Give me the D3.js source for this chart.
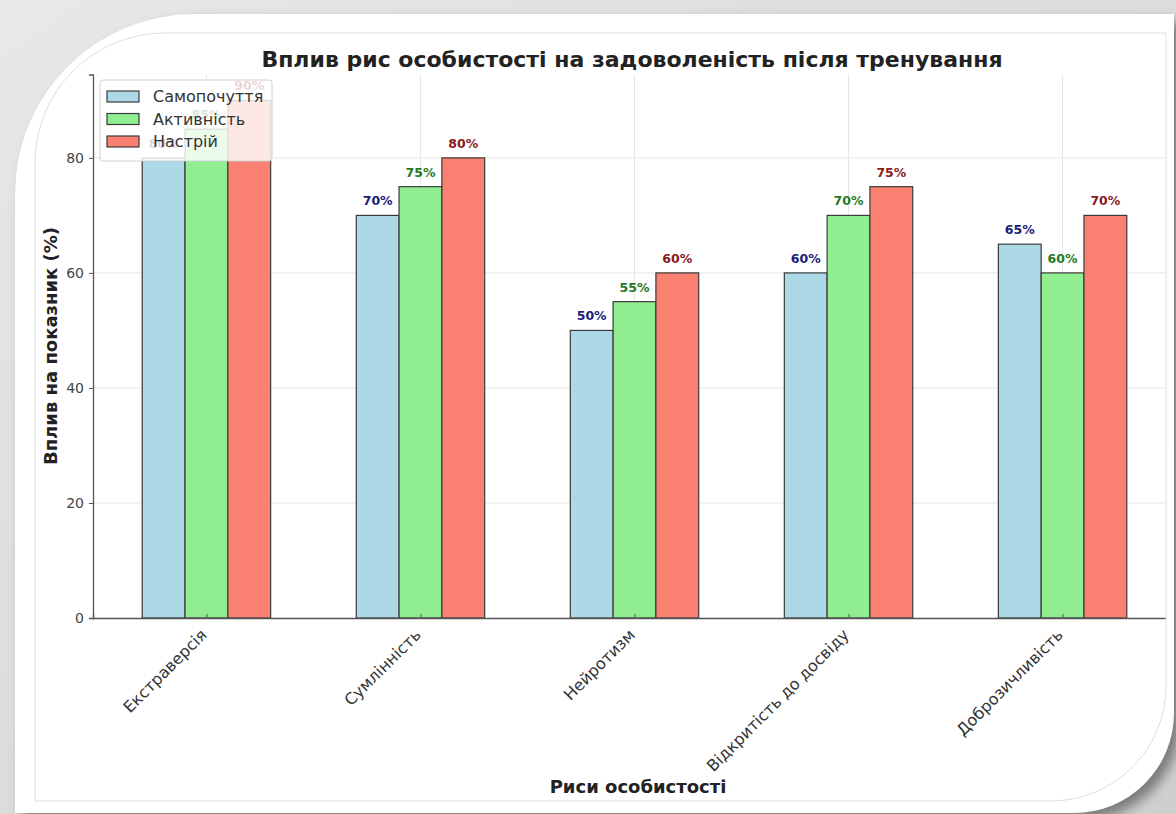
<!DOCTYPE html>
<html>
<head>
<meta charset="utf-8">
<script src="https://cdn.jsdelivr.net/npm/d3@7"></script>
<style>
  body { margin: 0; background: #fff; }
  svg { display: block; font-family: "DejaVu Sans", sans-serif; }
</style>
</head>
<body>
<svg id="chart" width="1176" height="814"></svg>
<script>
const categories = ['Екстраверсія', 'Сумлінність', 'Нейротизм', 'Відкритість до досвіду', 'Доброзичливість'];
const seriesNames = ['Самопочуття', 'Активність', 'Настрій'];
const wellbeing = [80, 70, 50, 60, 65];
const activity = [85, 75, 55, 70, 60];
const mood = [90, 80, 60, 75, 70];
const yTicks = [0, 20, 40, 60, 80];

const barColors = ['#add8e6', '#90ee90', '#fa8072'];
const labelColors = ['#1c1c78', '#1f7a1f', '#8b1a1a'];

const seriesValues = [wellbeing, activity, mood];

const svg = d3.select('#chart');
const defs = svg.append('defs');

// picture frame: gray canvas, white rounded card, soft shadow
const cardPath = 'M15,814 V194 A180,180 0 0 1 195,14 H1174 V713 A100,100 0 0 1 1074,813 H15 Z';
const innerPath = 'M35,801 V163 A130,130 0 0 1 165,33 H1166 V686 A115,115 0 0 1 1051,801 Z';

const bgGrad = defs.append('linearGradient').attr('id', 'bg').attr('x1', 0).attr('y1', 0).attr('x2', 1).attr('y2', 1);
bgGrad.append('stop').attr('offset', '0%').attr('stop-color', '#e8e8e8');
bgGrad.append('stop').attr('offset', '100%').attr('stop-color', '#cfcfcf');

defs.append('filter').attr('id', 'blur').attr('x', '-10%').attr('y', '-10%').attr('width', '120%').attr('height', '120%')
  .append('feGaussianBlur').attr('stdDeviation', 6);

defs.append('clipPath').attr('id', 'inner').append('path').attr('d', innerPath);

svg.append('rect').attr('width', 1176).attr('height', 814).attr('fill', 'url(#bg)');
svg.append('path').attr('d', cardPath).attr('fill', '#7a7a7a')
  .attr('transform', 'translate(7,7)').attr('filter', 'url(#blur)');
svg.append('path').attr('d', cardPath).attr('fill', '#fff');

const g = svg.append('g').attr('clip-path', 'url(#inner)');

const x = d3.scaleLinear().domain([-0.53, 4.53]).range([93, 1176]);
const y = d3.scaleLinear().domain([0, 94.5]).range([618, 74.5]);
const barW = x(0.2) - x(0);

// grid
g.append('g')
  .selectAll('line.hgrid')
  .data(yTicks.slice(1))
  .enter()
    .append('line')
    .attr('x1', x.range()[0])
    .attr('x2', x.range()[1])
    .attr('y1', (d) => y(d))
    .attr('y2', (d) => y(d))
    .attr('stroke', '#e6e6e6')
    .attr('stroke-width', 1);

g.append('g')
  .selectAll('line.vgrid')
  .data(categories)
  .enter()
    .append('line')
    .attr('x1', (d, i) => x(i))
    .attr('x2', (d, i) => x(i))
    .attr('y1', y.range()[0])
    .attr('y2', y.range()[1])
    .attr('stroke', '#e6e6e6')
    .attr('stroke-width', 1);

// bars
seriesValues.forEach((vals, k) => {
  const off = (k - 1) * 0.2;
  g.append('g')
    .selectAll('rect')
    .data(vals)
    .enter()
      .append('rect')
      .attr('x', (d, i) => x(i + off - 0.1))
      .attr('y', (d) => y(d))
      .attr('width', barW)
      .attr('height', (d) => y(0) - y(d))
      .attr('fill', barColors[k])
      .attr('stroke', '#3a3a3a')
      .attr('stroke-width', 1.2);

  g.append('g')
    .selectAll('text')
    .data(vals)
    .enter()
      .append('text')
      .attr('x', (d, i) => x(i + off))
      .attr('y', (d) => y(d) - 10)
      .attr('text-anchor', 'middle')
      .attr('font-size', 12.5)
      .attr('font-weight', 'bold')
      .attr('fill', labelColors[k])
      .text((d) => d + '%');
});

// axes
const yAxis = g.append('g')
  .attr('transform', `translate(${x.range()[0]},0)`)
  .call(d3.axisLeft(y).tickValues(yTicks).tickSize(4).tickPadding(5));
yAxis.select('.domain').attr('stroke', '#555').attr('stroke-width', 1.3);
yAxis.selectAll('.tick line').attr('stroke', '#555');
yAxis.selectAll('.tick text').attr('font-size', 14).attr('fill', '#444').attr('font-family', 'DejaVu Sans');

const xAxis = g.append('g')
  .attr('transform', `translate(0,${y(0)})`)
  .call(d3.axisBottom(x).tickValues(d3.range(categories.length)).tickSize(-4).tickFormat((i) => categories[i]));
xAxis.select('.domain').attr('stroke', '#555').attr('stroke-width', 1.3);
xAxis.selectAll('.tick line').attr('stroke', '#555');
xAxis.selectAll('.tick text')
  .attr('font-size', 16)
  .attr('fill', '#333')
  .attr('font-family', 'DejaVu Sans')
  .attr('text-anchor', 'end')
  .attr('x', 0)
  .attr('y', 0)
  .attr('dy', '0.7em')
  .attr('transform', 'translate(-7,10) rotate(-45)');

// legend
const legend = g.append('g').attr('transform', 'translate(100,80)');
legend.append('rect')
  .attr('width', 172)
  .attr('height', 81)
  .attr('rx', 3)
  .attr('fill', 'rgba(255,255,255,0.82)')
  .attr('stroke', '#d0d0d0');

seriesNames.forEach((name, k) => {
  const row = legend.append('g').attr('transform', `translate(0,${16 + k * 22.5})`);
  row.append('rect')
    .attr('x', 7)
    .attr('y', -5)
    .attr('width', 32)
    .attr('height', 11)
    .attr('fill', barColors[k])
    .attr('stroke', '#3a3a3a')
    .attr('stroke-width', 1.2);
  row.append('text')
    .attr('x', 53)
    .attr('y', 6)
    .attr('font-size', 16)
    .attr('fill', '#333')
    .text(name);
});

// titles
g.append('text')
  .attr('x', 632)
  .attr('y', 67)
  .attr('text-anchor', 'middle')
  .attr('font-size', 22)
  .attr('font-weight', 'bold')
  .attr('fill', '#222')
  .text('Вплив рис особистості на задоволеність після тренування');

g.append('text')
  .attr('transform', 'translate(57,346) rotate(-90)')
  .attr('text-anchor', 'middle')
  .attr('font-size', 18)
  .attr('font-weight', 'bold')
  .attr('fill', '#222')
  .text('Вплив на показник (%)');

g.append('text')
  .attr('x', 638)
  .attr('y', 793)
  .attr('text-anchor', 'middle')
  .attr('font-size', 18)
  .attr('font-weight', 'bold')
  .attr('fill', '#222')
  .text('Риси особистості');

svg.append('path').attr('d', innerPath).attr('fill', 'none').attr('stroke', '#dedede').attr('stroke-width', 1);
</script>
</body>
</html>
